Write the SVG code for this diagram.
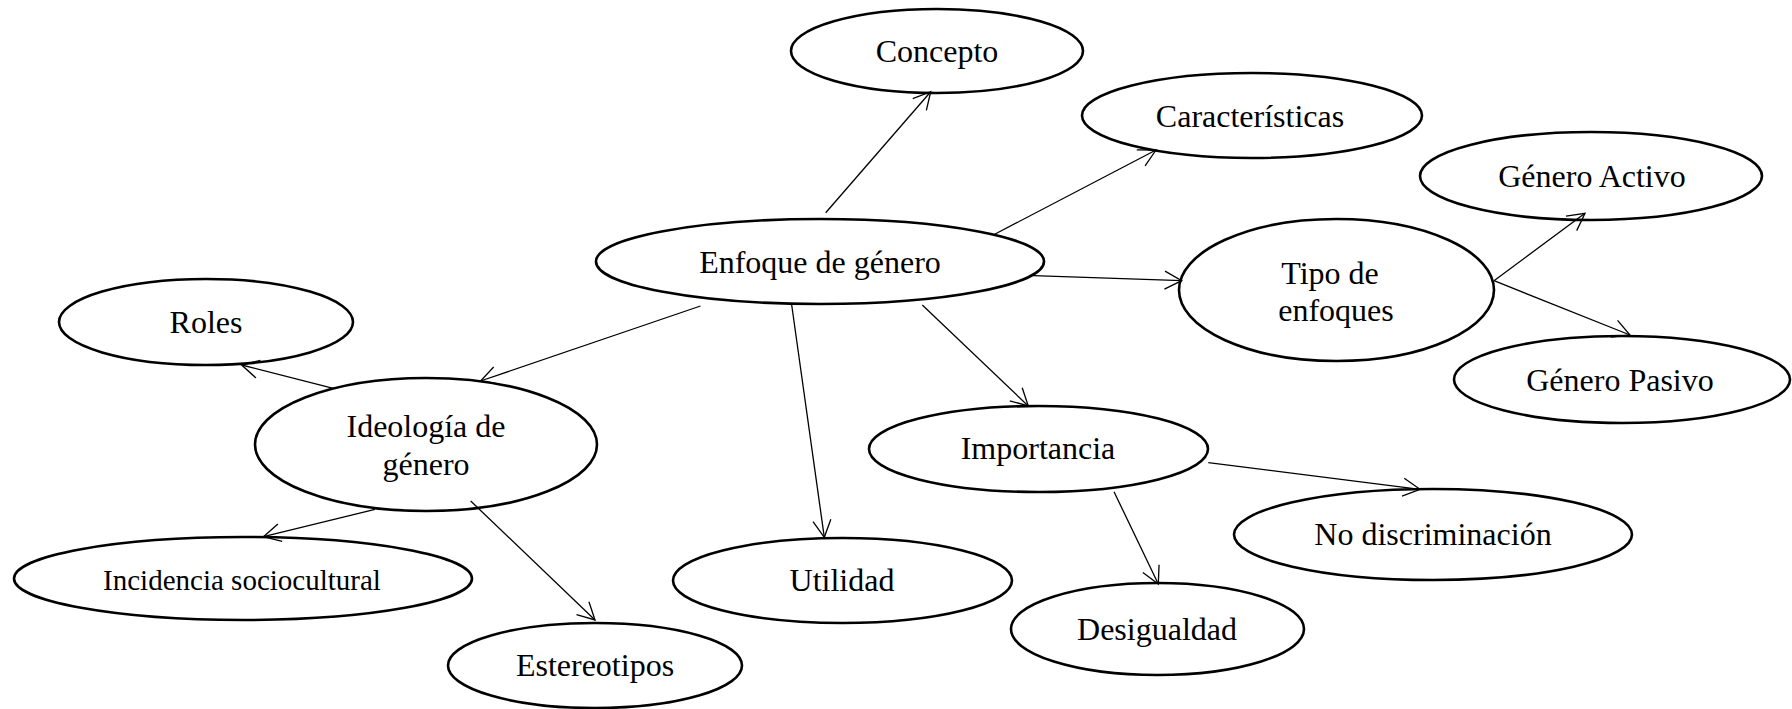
<svg xmlns="http://www.w3.org/2000/svg" width="1792" height="709" viewBox="0 0 1792 709">
<style>
.n ellipse{fill:#fff;stroke:#000;stroke-width:2.6}
.n text{font-family:"Liberation Serif","Times New Roman",serif;font-size:32px;fill:#000;text-anchor:middle}
.c line{stroke:#000;stroke-width:1.3;marker-end:url(#a)}
</style>
<defs>
<marker id="a" markerUnits="userSpaceOnUse" markerWidth="24" markerHeight="24" viewBox="-20 -12 22 24" refX="0" refY="0" orient="auto">
<path d="M-17,-9 L0,0 L-17,9" fill="none" stroke="#000" stroke-width="1.3"/>
</marker>
</defs>
<rect width="1792" height="709" fill="#fff"/>
<g id="nodes" class="n">
<g id="concepto"><ellipse cx="937" cy="51" rx="146" ry="42"/><text x="937" y="62">Concepto</text></g>
<g id="caracteristicas"><ellipse cx="1252" cy="115.5" rx="170" ry="42.5"/><text x="1250" y="127">Características</text></g>
<g id="genero-activo"><ellipse cx="1591" cy="176" rx="171" ry="44"/><text x="1592" y="187">Género Activo</text></g>
<g id="enfoque"><ellipse cx="820" cy="261.5" rx="224" ry="42.5"/><text x="820" y="273">Enfoque de género</text></g>
<g id="tipo"><ellipse cx="1336.5" cy="290" rx="157.5" ry="71"/><text x="1330" y="284">Tipo de</text><text x="1336" y="321">enfoques</text></g>
<g id="roles"><ellipse cx="206" cy="322" rx="147" ry="43"/><text x="206" y="333">Roles</text></g>
<g id="genero-pasivo"><ellipse cx="1622" cy="379.5" rx="168" ry="43.5"/><text x="1620" y="391">Género Pasivo</text></g>
<g id="ideologia"><ellipse cx="426" cy="444.5" rx="171" ry="66.5"/><text x="426" y="437">Ideología de</text><text x="426" y="475">género</text></g>
<g id="importancia"><ellipse cx="1038.5" cy="449" rx="169.5" ry="43"/><text x="1038" y="459">Importancia</text></g>
<g id="no-discriminacion"><ellipse cx="1433" cy="534.5" rx="199" ry="45.5"/><text x="1433" y="545">No discriminación</text></g>
<g id="incidencia"><ellipse cx="243" cy="578.5" rx="229" ry="41.5"/><text x="242" y="590" style="font-size:29px">Incidencia sociocultural</text></g>
<g id="utilidad"><ellipse cx="842.5" cy="580.5" rx="169.5" ry="42.5"/><text x="842" y="591">Utilidad</text></g>
<g id="desigualdad"><ellipse cx="1157.5" cy="629" rx="146.5" ry="46"/><text x="1157" y="640">Desigualdad</text></g>
<g id="estereotipos"><ellipse cx="595" cy="665.5" rx="147" ry="42.5"/><text x="595" y="676">Estereotipos</text></g>
</g>
<g id="connectors" class="c">
<line x1="825.7" y1="212.7" x2="930.7" y2="91.7"/>
<line x1="993.3" y1="235" x2="1156" y2="150"/>
<line x1="1033.3" y1="275.7" x2="1181.7" y2="280.7"/>
<line x1="1494" y1="280.7" x2="1585" y2="213.3"/>
<line x1="1494" y1="280.7" x2="1630" y2="335"/>
<line x1="700.5" y1="306" x2="480.5" y2="381"/>
<line x1="333.3" y1="388.3" x2="241.7" y2="365"/>
<line x1="375" y1="509.3" x2="263.5" y2="536.7"/>
<line x1="470.7" y1="501" x2="595" y2="620"/>
<line x1="791.7" y1="305" x2="824.3" y2="537.3"/>
<line x1="922.3" y1="305" x2="1028.3" y2="406"/>
<line x1="1208.3" y1="462.7" x2="1420" y2="489.3"/>
<line x1="1114" y1="491.7" x2="1158.3" y2="584"/>
</g>
</svg>
